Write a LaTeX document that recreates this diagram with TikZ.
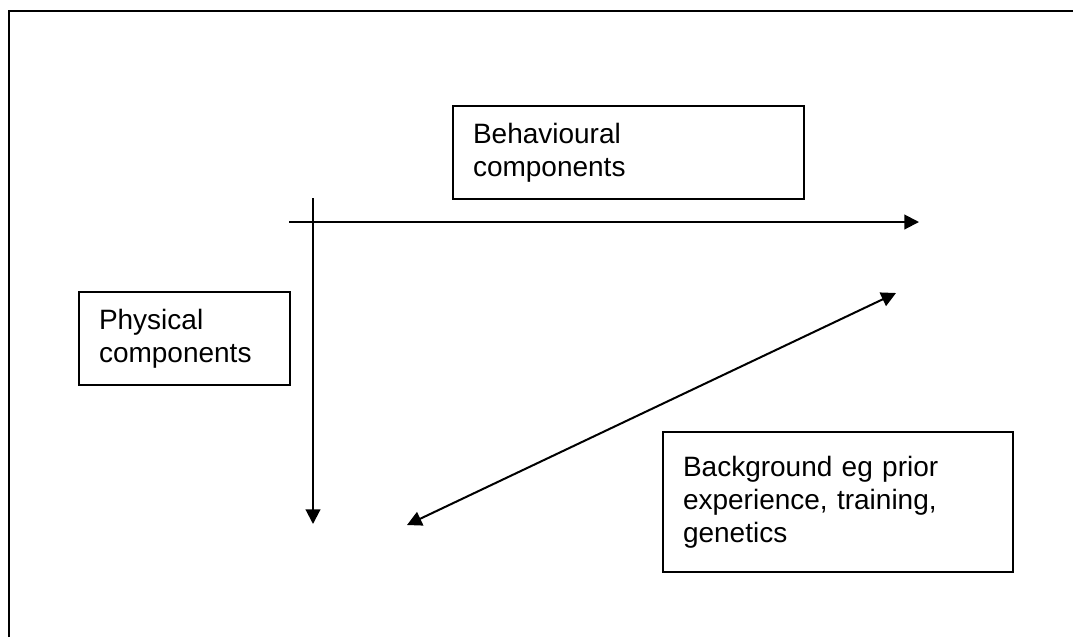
\documentclass[tikz,border=0pt]{standalone}
\usepackage{fontspec}
\setmainfont{Liberation Sans}
\usetikzlibrary{arrows.meta}

\begin{document}
\begin{tikzpicture}[x=0.75pt, y=-0.75pt,
  compbox/.style={draw, line width=1pt, align=left, inner xsep=15pt, inner ysep=0pt, font=\fontsize{21}{24.75}\selectfont},
  axis/.style={line width=1.5pt, -{Triangle[length=11pt, width=11pt]}}]
\useasboundingbox (0,0) rectangle (1073,637);
% outer frame (only top and left edges show)
\draw[line width=1.75pt] (9,637) -- (9,11) -- (1073,11);

\node[compbox, text width=233.25pt, minimum height=69.75pt] (behav) at (628.5,152.5) {%
  Behavioural\\components};
\node[compbox, text width=128.25pt, minimum height=69.75pt] (phys) at (184.5,338.5) {%
  Physical\\components};
\node[compbox, text width=232.5pt, minimum height=105pt] (backg) at (838,502) {%
  Background eg prior\\experience, training,\\genetics};

\coordinate (hstart) at (289,222);
\coordinate (hend) at (919,222);
\coordinate (vstart) at (313,198);
\coordinate (vend) at (313,524);
\coordinate (dlow) at (407,525);
\coordinate (dhigh) at (896,293);

\draw[axis] (hstart) -- (hend);
\draw[axis] (vstart) -- (vend);
\draw[axis, {Triangle[length=11pt, width=11pt]}-{Triangle[length=11pt, width=11pt]}] (dlow) -- (dhigh);
\end{tikzpicture}
\end{document}
